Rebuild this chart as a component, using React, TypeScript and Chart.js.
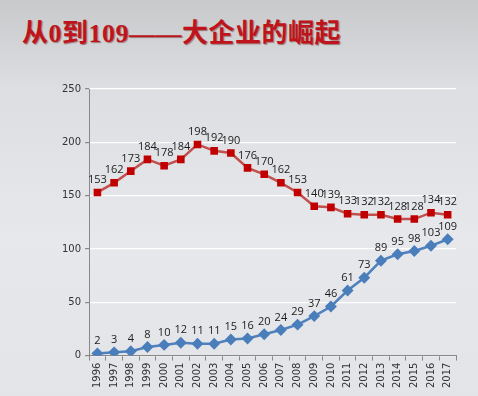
import React, { useEffect, useRef } from "react";
import { Chart, registerables } from "chart.js";

Chart.register(...registerables);

const years = ["1996","1997","1998","1999","2000","2001","2002","2003","2004","2005","2006","2007","2008","2009","2010","2011","2012","2013","2014","2015","2016","2017"];
const redSeries = [153,162,173,184,178,184,198,192,190,176,170,162,153,140,139,133,132,132,128,128,134,132];
const blueSeries = [2,3,4,8,10,12,11,11,15,16,20,24,29,37,46,61,73,89,95,98,103,109];
const yTicks = [0, 50, 100, 150, 200, 250];
const titleText = "从0到109——大企业的崛起";

const labelPlugin = {
  id: "valueLabels",
  afterDatasetsDraw(chart: any) {
    const ctx = chart.ctx;
    ctx.save();
    ctx.font = "11px 'Open Sans', 'DejaVu Sans', sans-serif";
    ctx.fillStyle = "#1a1a1a";
    ctx.textAlign = "center";
    ctx.textBaseline = "bottom";
    chart.data.datasets.forEach((ds: any, i: number) => {
      const meta = chart.getDatasetMeta(i);
      meta.data.forEach((pt: any, j: number) => {
        ctx.fillText(String(ds.data[j]), pt.x, pt.y - 7);
      });
    });
    ctx.restore();
  },
};

export default function App() {
  const ref = useRef<HTMLCanvasElement>(null);
  useEffect(() => {
    document.body.style.margin = "0";
    const chart = new Chart(ref.current!, {
      type: "line",
      data: {
        labels: years,
        datasets: [
          {
            data: redSeries,
            borderColor: "#c0504d",
            backgroundColor: "#c00000",
            pointBackgroundColor: "#c00000",
            pointBorderColor: "#c00000",
            pointStyle: "rect",
            pointRadius: 3.6,
            borderWidth: 2.5,
          },
          {
            data: blueSeries,
            borderColor: "#4f81bd",
            backgroundColor: "#4a7ebb",
            pointBackgroundColor: "#4a7ebb",
            pointBorderColor: "#4a7ebb",
            pointStyle: "rectRot",
            pointRadius: 4.2,
            borderWidth: 2.5,
          },
        ],
      },
      options: {
        animation: false,
        responsive: false,
        layout: { padding: { left: 58, right: 22, top: 89, bottom: 6 } },
        plugins: { legend: { display: false }, tooltip: { enabled: false } },
        scales: {
          x: {
            offset: true,
            grid: { offset: true, drawOnChartArea: false, tickColor: "#888", tickLength: 5 },
            border: { color: "#888" },
            ticks: {
              minRotation: 90,
              maxRotation: 90,
              color: "#333",
              font: { size: 10, family: "'DejaVu Sans', sans-serif" },
              padding: 2,
              autoSkip: false,
            },
          },
          y: {
            min: 0,
            max: 250,
            afterBuildTicks: (axis: any) => {
              axis.ticks = yTicks.map((v) => ({ value: v }));
            },
            grid: { color: "#ffffff", lineWidth: 1.2, tickColor: "#888", tickLength: 4 },
            border: { color: "#888" },
            ticks: {
              color: "#333",
              font: { size: 10, family: "'DejaVu Sans', sans-serif" },
              padding: 4,
            },
          },
        },
      },
      plugins: [labelPlugin],
    });
    return () => chart.destroy();
  }, []);
  return (
    <div
      style={{
        position: "fixed",
        left: 0,
        top: 0,
        width: 478,
        height: 396,
        background: "linear-gradient(180deg, #c8c9cb 0%, #dddee1 22%, #e7e8eb 60%, #e3e4e7 100%)",
        overflow: "hidden",
      }}
    >
      <div
        style={{
          position: "absolute",
          left: 22,
          top: 12,
          fontFamily: "'Liberation Serif', 'Noto Sans CJK SC', serif",
          fontWeight: "bold",
          fontSize: 26,
          color: "#c0141c",
          textShadow: "1px 1px 1px rgba(80,0,0,0.45)",
          whiteSpace: "nowrap",
          letterSpacing: 0.5,
        }}
      >
        {titleText}
      </div>
      <canvas ref={ref} width={478} height={396} style={{ position: "absolute", left: 0, top: 0 }} />
    </div>
  );
}
